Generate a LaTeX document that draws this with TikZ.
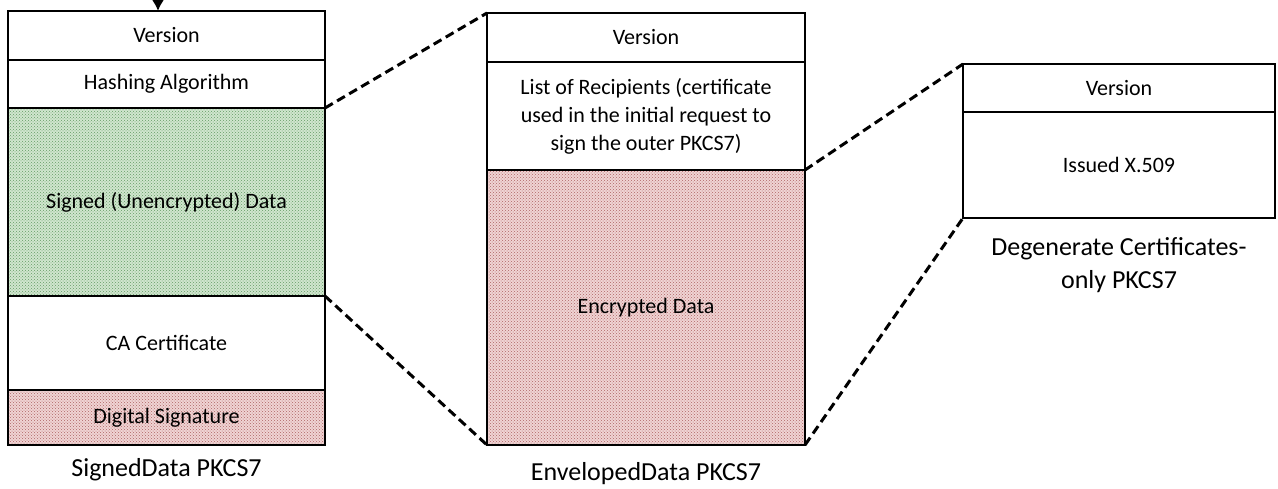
\documentclass[tikz,border=0pt]{standalone}
\usepackage{fontspec}
\setmainfont{Carlito}
\usetikzlibrary{positioning,patterns,arrows.meta}

\definecolor{signfill}{RGB}{208,230,206}
\definecolor{signdot}{RGB}{100,155,100}
\definecolor{encfill}{RGB}{240,212,212}
\definecolor{encdot}{RGB}{175,100,100}

\tikzset{
  cell/.style={draw, line width=2pt, inner sep=2pt, outer sep=0pt, align=center,
    font=\fontsize{22}{28}\selectfont},
  lcell/.style={cell, minimum width=317},
  mcell/.style={cell, minimum width=318},
  rcell/.style={cell, minimum width=312},
  signed/.style={pattern=crosshatch dots, pattern color=signdot, preaction={fill=signfill}},
  secret/.style={pattern=crosshatch dots, pattern color=encdot, preaction={fill=encfill}},
  caption/.style={align=center, font=\fontsize{26}{33}\selectfont},
  zoomline/.style={line width=3pt, dash pattern=on 9pt off 5pt}
}

\begin{document}
\begin{tikzpicture}[x=1pt, y=-1pt]
  \useasboundingbox (0,0) rectangle (1278,488);

  % SignedData PKCS7
  \node[lcell, minimum height=49, anchor=north west] (sver) at (8,11) {Version};
  \node[lcell, minimum height=48, below=0pt of sver] (shash) {Hashing Algorithm};
  \node[lcell, signed, minimum height=188, below=0pt of shash] (sdata) {Signed (Unencrypted) Data};
  \node[lcell, minimum height=94, below=0pt of sdata] (sca) {CA Certificate};
  \node[lcell, secret, minimum height=55, below=0pt of sca] (sdig) {Digital Signature};
  \node[caption, below=10pt of sdig] (slabel) {SignedData PKCS7};

  % incoming arrow
  \coordinate (sin) at (158,0);
  \draw[-{Latex[length=11pt,width=12pt]}, line width=2pt] (sin) -- (sver.north -| sin);

  % EnvelopedData PKCS7
  \node[mcell, minimum height=49, anchor=north west] (ever) at (487,13) {Version};
  \node[mcell, minimum height=108, below=0pt of ever] (elist) {List of Recipients (certificate\\used in the initial request to\\sign the outer PKCS7)};
  \node[mcell, secret, minimum height=275, below=0pt of elist] (eenc) {Encrypted Data};
  \node[caption, below=14pt of eenc] (elabel) {EnvelopedData PKCS7};

  % Degenerate Certificates-only PKCS7
  \node[rcell, minimum height=48, anchor=north west] (rver) at (963,64) {Version};
  \node[rcell, minimum height=106, below=0pt of rver] (riss) {Issued X.509};
  \node[caption, below=16pt of riss] (rlabel) {Degenerate Certificates-\\only PKCS7};

  % Zoom lines
  \draw[zoomline] (shash.south east) -- (ever.north west);
  \draw[zoomline] (sca.north east) -- (eenc.south west);
  \draw[zoomline] (elist.south east) -- (rver.north west);
  \draw[zoomline] (eenc.south east) -- (riss.south west);
\end{tikzpicture}
\end{document}
